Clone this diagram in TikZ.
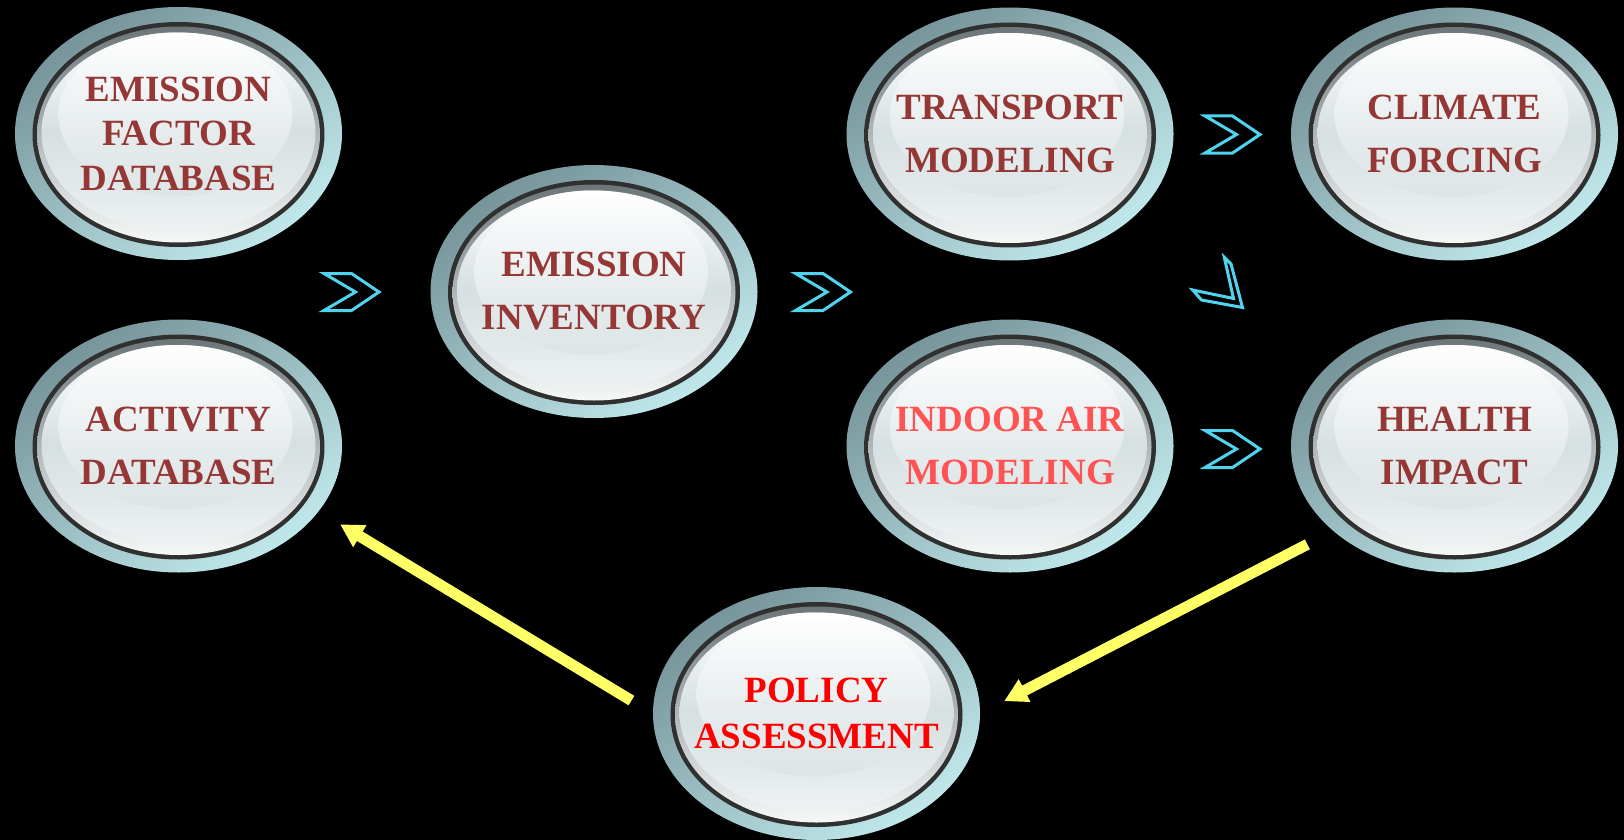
\documentclass[tikz,border=0pt]{standalone}
\usepackage{fontspec}
\setmainfont{Liberation Serif}
\usetikzlibrary{shapes.geometric,arrows.meta}

% palette
\definecolor{ringA}{RGB}{118,148,153}
\definecolor{ringB}{RGB}{192,232,235}
\definecolor{ringdark}{RGB}{48,48,48}
\definecolor{bevA}{RGB}{108,118,120}
\definecolor{bevB}{RGB}{246,248,248}
\definecolor{faceM}{RGB}{214,223,225}
\definecolor{faceB}{RGB}{238,242,242}
\definecolor{glossB}{RGB}{220,228,230}
\definecolor{txtred}{RGB}{149,55,53}
\definecolor{txtpink}{RGB}{255,82,82}
\definecolor{txtbright}{RGB}{255,0,0}
\definecolor{chevcyan}{RGB}{80,212,238}
\definecolor{arrowyellow}{RGB}{255,255,102}

\tikzset{
  % glossy ring button; negative inner sep keeps the size fixed for wide labels
  bubble/.style={ellipse, minimum width=327pt, minimum height=253pt,
    inner sep=-30pt, align=center, text=txtred,
    font=\bfseries\fontsize{37pt}{53pt}\selectfont,
    top color=ringA, bottom color=ringB, shading angle=35,
    path picture={
      \fill[ringdark] ([yshift=-1pt]path picture bounding box.center)
        ellipse [x radius=146pt, y radius=112.5pt];
      \shade[top color=bevA, bottom color=bevB]
        ([yshift=-1pt]path picture bounding box.center)
        ellipse [x radius=141.5pt, y radius=108pt];
      \shade[top color=white, bottom color=faceB, middle color=faceM]
        ([yshift=1pt]path picture bounding box.center)
        ellipse [x radius=137pt, y radius=100pt];
      \shade[top color=white, bottom color=glossB, opacity=.85]
        ([xshift=-3pt,yshift=19pt]path picture bounding box.center)
        ellipse [x radius=117pt, y radius=82pt];
    }},
  threeline/.style={font=\bfseries\fontsize{37pt}{44.5pt}\selectfont},
  chev/.style={draw=chevcyan, line width=3pt, line join=miter},
  yarrow/.style={draw=arrowyellow, line width=11pt,
    -{Triangle[length=23pt, width=24pt]}},
}

\begin{document}
\begin{tikzpicture}[x=1pt, y=-1pt]
  \useasboundingbox (0,0) rectangle (1624,840);
  \fill[black] (0,0) rectangle (1624,840);

  % stages
  \node[bubble, threeline] (efd) at (178.5,133.5) {EMISSION\\FACTOR\\DATABASE};
  \node[bubble] (act) at (178.5,446) {ACTIVITY\\DATABASE};
  \node[bubble] (ei)  at (594,291.5) {EMISSION\\INVENTORY};
  \node[bubble] (tra) at (1010,134) {TRANSPORT\\MODELING};
  \node[bubble] (cli) at (1454.5,134) {CLIMATE\\FORCING};
  \node[bubble, text=txtpink] (ind) at (1010,446) {INDOOR AIR\\MODELING};
  \node[bubble] (hea) at (1454.5,446) {HEALTH\\IMPACT};
  \node[bubble, text=txtbright,
        font=\bfseries\fontsize{37pt}{45.5pt}\selectfont]
        (pol) at (816.5,713.5) {POLICY\\ASSESSMENT};

  % chevrons between stages
  \foreach \cx/\cy in {351.5/292, 823/292, 1232.5/134.5, 1232.5/449}
    \draw[chev, shift={(\cx,\cy)}]
      (-27.5,-18.5) -- (0,-18.5) -- (27.5,0) -- (0,18.5)
      -- (-27.5,18.5) -- (4,0) -- cycle;
  \draw[chev] (1224.3,257.3) -- (1231,264) -- (1242.5,307.5)
    -- (1201.5,300) -- (1192.7,290) -- (1233.5,298.5) -- cycle;

  % feedback arrows
  \draw[yarrow, shorten <=25pt, shorten >=25pt] (pol.west) -- (act.335);
  \draw[yarrow, shorten <=29pt, shorten >=27pt] (hea.215) -- (pol.east);
\end{tikzpicture}
\end{document}
